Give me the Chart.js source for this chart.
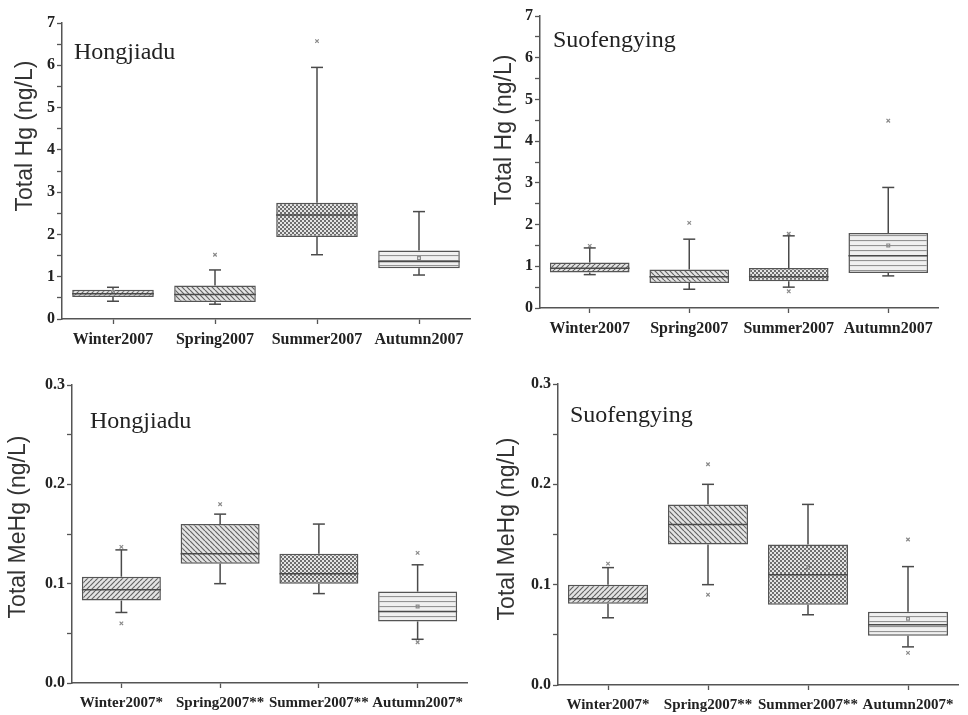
<!DOCTYPE html>
<html>
<head>
<meta charset="utf-8">
<script src="https://cdn.jsdelivr.net/npm/chart.js@4.4.0/dist/chart.umd.min.js"></script>
<style>
  body { margin: 0; background: #fff; width: 968px; height: 715px; position: relative; overflow: hidden; }
  canvas { position: absolute; }
</style>
</head>
<body>
<canvas id="hongHg" width="484" height="356" style="left:0;top:0"></canvas>
<canvas id="suoHg" width="484" height="356" style="left:484px;top:0"></canvas>
<canvas id="hongMeHg" width="484" height="359" style="left:0;top:356px"></canvas>
<canvas id="suoMeHg" width="484" height="359" style="left:484px;top:356px"></canvas>
<script>
// categories
const seasonsHg = ['Winter2007', 'Spring2007', 'Summer2007', 'Autumn2007'];
const seasonsMeHg = ['Winter2007*', 'Spring2007**', 'Summer2007**', 'Autumn2007*'];

// y tick labels
const hgTickLabels = [0, 1, 2, 3, 4, 5, 6, 7];
const mehgTickLabels = [0.0, 0.1, 0.2, 0.3];

// Hongjiadu, total Hg
const hongHgQ1 = [0.52, 0.40, 1.94, 1.20];
const hongHgQ3 = [0.69, 0.79, 2.75, 1.62];
const hongHgMedian = [0.60, 0.58, 2.46, 1.36];
const hongHgLow = [0.42, 0.35, 1.52, 1.04];
const hongHgHigh = [0.75, 1.16, 5.95, 2.54];
const hongHgMean = [0.64, null, null, 1.44];
const hongHgOutHigh = [null, 1.52, 6.57, null];
const hongHgOutLow = [null, null, null, null];

// Suofengying, total Hg
const suoHgQ1 = [0.85, 0.60, 0.64, 0.84];
const suoHgQ3 = [1.09, 0.92, 0.96, 1.80];
const suoHgMedian = [0.95, 0.75, 0.75, 1.25];
const suoHgLow = [0.80, 0.45, 0.50, 0.77];
const suoHgHigh = [1.44, 1.65, 1.73, 2.89];
const suoHgMean = [null, null, null, 1.50];
const suoHgOutHigh = [1.49, 2.04, 1.78, 4.49];
const suoHgOutLow = [null, null, 0.40, null];

// Hongjiadu, total MeHg
const hongMeQ1 = [0.083, 0.120, 0.100, 0.062];
const hongMeQ3 = [0.107, 0.160, 0.130, 0.092];
const hongMeMedian = [0.094, 0.130, 0.110, 0.072];
const hongMeLow = [0.071, 0.100, 0.090, 0.044];
const hongMeHigh = [0.134, 0.170, 0.160, 0.119];
const hongMeMean = [null, null, null, 0.077];
const hongMeOutHigh = [0.137, 0.180, null, 0.131];
const hongMeOutLow = [0.060, null, null, 0.041];

// Suofengying, total MeHg
const suoMeQ1 = [0.081, 0.140, 0.080, 0.049];
const suoMeQ3 = [0.100, 0.180, 0.140, 0.073];
const suoMeMedian = [0.086, 0.160, 0.110, 0.060];
const suoMeLow = [0.067, 0.100, 0.070, 0.038];
const suoMeHigh = [0.117, 0.200, 0.180, 0.118];
const suoMeMean = [null, null, 0.117, 0.066];
const suoMeOutHigh = [0.121, 0.220, null, 0.145];
const suoMeOutLow = [null, 0.090, null, 0.032];

function makePattern(kind) {
    const c = document.createElement('canvas');
    const s = kind === 'check' ? 4 : 5;
    c.width = s; c.height = s;
    const g = c.getContext('2d');
    g.fillStyle = kind === 'lines' ? '#f0f0f0' : '#e4e4e4';
    g.fillRect(0, 0, s, s);
    g.strokeStyle = '#646464';
    g.lineWidth = 1.2;
    if (kind === 'fwd' || kind === 'back') {
        g.beginPath();
        for (let k = -1; k <= 1; k++) {
            if (kind === 'fwd') { g.moveTo(k * s, s); g.lineTo(k * s + s, 0); }
            else { g.moveTo(k * s, 0); g.lineTo(k * s + s, s); }
        }
        g.stroke();
    } else if (kind === 'check') {
        g.fillStyle = '#6e6e6e';
        g.fillRect(0, 0, 2, 2);
        g.fillRect(2, 2, 2, 2);
    } else {
        g.strokeStyle = '#939393';
        g.beginPath(); g.moveTo(0, 0.5); g.lineTo(s, 0.5); g.stroke();
    }
    return g.createPattern(c, 'repeat');
}

function boxExtras(stats, text, geo) {
    return {
        id: 'boxExtras',
        afterDatasetsDraw(chart) {
            const { ctx, scales: { x, y } } = chart;
            const meta = chart.getDatasetMeta(0);
            const line = (x1, y1, x2, y2) => { ctx.beginPath(); ctx.moveTo(x1, y1); ctx.lineTo(x2, y2); ctx.stroke(); };
            ctx.save();
            ctx.strokeStyle = '#4a4a4a';
            ctx.lineWidth = 1.5;
            stats.median.forEach((m, i) => {
                const cx = x.getPixelForValue(i);
                const half = meta.data[i].width / 2;
                const cap = 6;
                line(cx - half, y.getPixelForValue(m), cx + half, y.getPixelForValue(m));
                line(cx, y.getPixelForValue(stats.q3[i]), cx, y.getPixelForValue(stats.high[i]));
                line(cx - cap, y.getPixelForValue(stats.high[i]), cx + cap, y.getPixelForValue(stats.high[i]));
                line(cx, y.getPixelForValue(stats.q1[i]), cx, y.getPixelForValue(stats.low[i]));
                line(cx - cap, y.getPixelForValue(stats.low[i]), cx + cap, y.getPixelForValue(stats.low[i]));
            });
            ctx.restore();
        },
        afterDraw(chart) {
            const ctx = chart.ctx;
            ctx.save();
            ctx.fillStyle = '#222';
            ctx.font = '24px "Liberation Serif"';
            ctx.textAlign = 'left';
            ctx.textBaseline = 'alphabetic';
            ctx.fillText(text.site, text.siteX - geo.cx, text.siteY - geo.cy);
            ctx.translate(text.titleX - geo.cx, text.titleY - geo.cy);
            ctx.rotate(-Math.PI / 2);
            ctx.font = '23px "Liberation Sans"';
            ctx.fillStyle = '#333';
            ctx.textAlign = 'center';
            ctx.textBaseline = 'middle';
            ctx.fillText(text.title, 0, 0);
            ctx.restore();
        }
    };
}

function makePanel(id, labels, stats, yCfg, text, geo) {
    const fills = [makePattern('fwd'), makePattern('back'), makePattern('check'), makePattern('lines')];
    const boxes = stats.q1.map((v, i) => [v, stats.q3[i]]);
    const pointSet = (data, style, r) => ({
        type: 'line', data, showLine: false, order: 0,
        pointStyle: style, pointRadius: r, pointBorderColor: '#8a8a8a',
        pointBackgroundColor: 'rgba(0,0,0,0)', pointBorderWidth: 1.2
    });
    new Chart(document.getElementById(id), {
        type: 'bar',
        data: {
            labels,
            datasets: [
                {
                    data: boxes, order: 2,
                    backgroundColor: fills,
                    borderColor: '#555', borderWidth: 1.5, borderSkipped: false,
                    barPercentage: 0.8, categoryPercentage: 1.0
                },
                pointSet(stats.mean, 'rect', 2),
                pointSet(stats.outHigh, 'crossRot', 2.5),
                pointSet(stats.outLow, 'crossRot', 2.5)
            ]
        },
        plugins: [boxExtras(stats, text, geo)],
        options: {
            responsive: false,
            animation: false,
            layout: { padding: { top: geo.top - geo.cy, right: geo.cx + geo.cw - geo.right, left: 0, bottom: 0 } },
            plugins: { legend: { display: false }, tooltip: { enabled: false } },
            scales: {
                x: {
                    offset: true,
                    grid: { offset: false, drawOnChartArea: false, tickLength: 5, color: '#555', tickWidth: 1.3 },
                    border: { color: '#555', width: 1.5 },
                    ticks: {
                        color: '#222', padding: 6, maxRotation: 0, autoSkip: false,
                        font: { family: 'Liberation Serif', size: geo.xFont, weight: 'bold' }
                    },
                    afterFit: s => { s.height = geo.cy + geo.ch - geo.bottom; }
                },
                y: {
                    min: yCfg.min, max: yCfg.max,
                    grid: { drawOnChartArea: false, tickLength: 5, color: '#555', tickWidth: 1.3 },
                    border: { color: '#555', width: 1.5 },
                    ticks: {
                        stepSize: yCfg.step, autoSkip: false, padding: 2, color: '#222',
                        font: { family: 'Liberation Serif', size: 16, weight: 'bold' },
                        callback: v => {
                            const hit = yCfg.labels.find(t => Math.abs(t - v) < 1e-6);
                            return hit === undefined ? '' : hit.toFixed(yCfg.digits);
                        }
                    },
                    afterFit: s => { s.width = geo.left - geo.cx; }
                }
            }
        }
    });
}

const hgAxis = { min: 0, max: 7, step: 0.5, labels: hgTickLabels, digits: 0 };
const mehgAxis = { min: 0, max: 0.3, step: 0.05, labels: mehgTickLabels, digits: 1 };

makePanel('hongHg', seasonsHg,
    { q1: hongHgQ1, q3: hongHgQ3, median: hongHgMedian, low: hongHgLow, high: hongHgHigh, mean: hongHgMean, outHigh: hongHgOutHigh, outLow: hongHgOutLow },
    hgAxis,
    { site: 'Hongjiadu', siteX: 74, siteY: 59, title: 'Total Hg (ng/L)', titleX: 26, titleY: 136 },
    { cx: 0, cy: 0, cw: 484, ch: 356, left: 62, right: 470, top: 23, bottom: 319, xFont: 16 });

makePanel('suoHg', seasonsHg,
    { q1: suoHgQ1, q3: suoHgQ3, median: suoHgMedian, low: suoHgLow, high: suoHgHigh, mean: suoHgMean, outHigh: suoHgOutHigh, outLow: suoHgOutLow },
    hgAxis,
    { site: 'Suofengying', siteX: 553, siteY: 47, title: 'Total Hg (ng/L)', titleX: 505, titleY: 130 },
    { cx: 484, cy: 0, cw: 484, ch: 356, left: 540, right: 938, top: 16, bottom: 308, xFont: 16 });

makePanel('hongMeHg', seasonsMeHg,
    { q1: hongMeQ1, q3: hongMeQ3, median: hongMeMedian, low: hongMeLow, high: hongMeHigh, mean: hongMeMean, outHigh: hongMeOutHigh, outLow: hongMeOutLow },
    mehgAxis,
    { site: 'Hongjiadu', siteX: 90, siteY: 428, title: 'Total MeHg (ng/L)', titleX: 19, titleY: 527 },
    { cx: 0, cy: 356, cw: 484, ch: 359, left: 72, right: 467, top: 385, bottom: 683, xFont: 15 });

makePanel('suoMeHg', seasonsMeHg,
    { q1: suoMeQ1, q3: suoMeQ3, median: suoMeMedian, low: suoMeLow, high: suoMeHigh, mean: suoMeMean, outHigh: suoMeOutHigh, outLow: suoMeOutLow },
    mehgAxis,
    { site: 'Suofengying', siteX: 570, siteY: 422, title: 'Total MeHg (ng/L)', titleX: 508, titleY: 529 },
    { cx: 484, cy: 356, cw: 484, ch: 359, left: 558, right: 958, top: 384, bottom: 685, xFont: 15 });
</script>
</body>
</html>
